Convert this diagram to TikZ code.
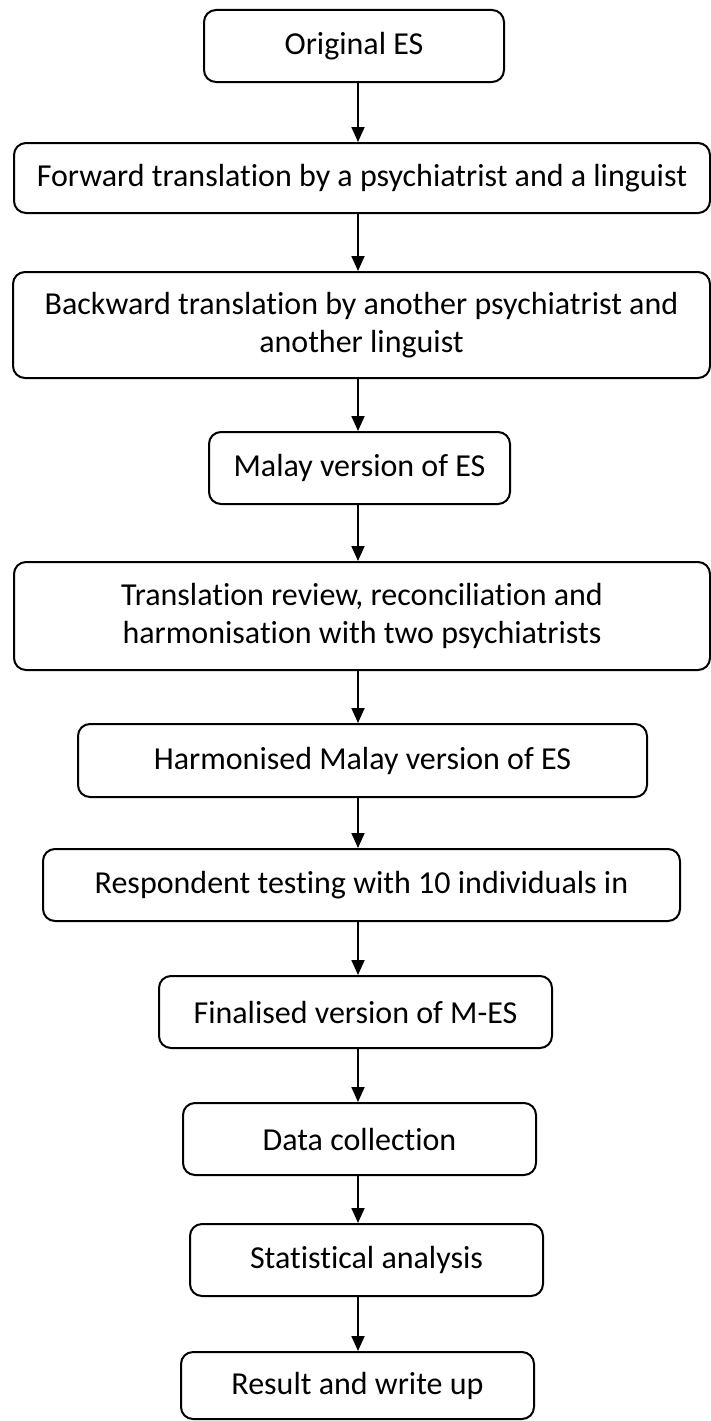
\documentclass[tikz,border=0pt]{standalone}
\usepackage{fontspec}
\setmainfont{Carlito}[Ligatures=NoCommon]
\usetikzlibrary{arrows.meta}
\begin{document}
\begin{tikzpicture}[x=1pt,y=-1pt,
  stage/.style={draw,line width=2pt,rounded corners=12pt,align=center,inner sep=0pt,font=\fontsize{32}{38}\selectfont},
  arr/.style={line width=1.8pt,-{Triangle[length=15pt,width=13pt]}}]
\useasboundingbox (0,0) rectangle (711,1421);
\coordinate (spine) at (358,0);
\node[stage,minimum width=300pt,minimum height=72pt] (orig) at (354,46) {Original ES};
\node[stage,minimum width=696pt,minimum height=70pt] (fwd) at (362,178) {Forward translation by a psychiatrist and a linguist};
\node[stage,minimum width=697pt,minimum height=106pt] (back) at (361.5,325) {Backward translation by another psychiatrist and\\another linguist};
\node[stage,minimum width=301pt,minimum height=72pt] (malay) at (359.5,468) {Malay version of ES};
\node[stage,minimum width=696pt,minimum height=108pt] (review) at (362,616) {Translation review, reconciliation and\\harmonisation with two psychiatrists};
\node[stage,minimum width=569pt,minimum height=73pt] (harm) at (362.5,760.5) {Harmonised Malay version of ES};
\node[stage,minimum width=637pt,minimum height=72pt] (resp) at (361.5,885) {Respondent testing with 10 individuals in};
\node[stage,minimum width=393pt,minimum height=72pt] (final) at (355.5,1012) {Finalised version of M-ES};
\node[stage,minimum width=353pt,minimum height=72pt] (data) at (359.5,1139) {Data collection};
\node[stage,minimum width=353pt,minimum height=72pt] (stat) at (366.5,1260) {Statistical analysis};
\node[stage,minimum width=353pt,minimum height=67pt] (result) at (357.5,1385.5) {Result and write up};
\foreach \a/\b in {orig/fwd,fwd/back,back/malay,malay/review,review/harm,harm/resp,resp/final,final/data,data/stat,stat/result}
  \draw[arr] (\a.south -| spine) -- (\b.north -| spine);
\end{tikzpicture}
\end{document}
